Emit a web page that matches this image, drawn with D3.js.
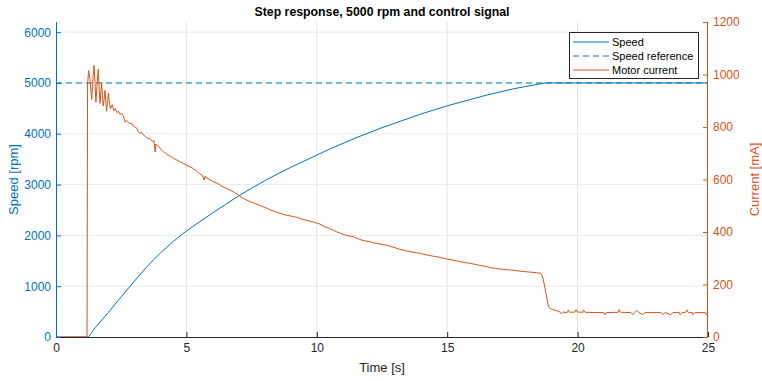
<!DOCTYPE html>
<html>
<head>
<meta charset="utf-8">
<script src="https://cdn.jsdelivr.net/npm/d3@7"></script>
<style>
  body { margin: 0; background: #fff; }
  svg text { font-family: "Liberation Sans", Arial, Helvetica, sans-serif; }
</style>
</head>
<body>
<svg id="chart" width="762" height="381"></svg>
<script>
// speed samples [s], [rpm]
const speedTime = [0, 1.2, 1.5, 2, 2.5, 3, 3.5, 4, 4.5, 5, 5.5, 6, 6.5, 7, 7.5, 8, 8.5, 9, 9.5, 10, 10.5,
  11, 11.5, 12, 12.5, 13, 13.5, 14, 14.5, 15, 15.5, 16, 16.5, 17, 17.5, 18, 18.5, 18.8, 19, 25];
const speedRpm = [0, 0, 180, 480, 790, 1095, 1390, 1650, 1880, 2085, 2265, 2440, 2610, 2775, 2930, 3075, 3210, 3340, 3460, 3580, 3700,
  3810, 3920, 4020, 4120, 4210, 4300, 4390, 4470, 4550, 4620, 4690, 4760, 4820, 4880, 4930, 4975, 5000, 5000, 5000];

// speed reference
const refRpm = 5000;

// motor current samples [s], [mA]
const currentTime = [0, 1.19, 1.21, 1.25, 1.30, 1.37, 1.42, 1.46, 1.50, 1.53, 1.58, 1.62, 1.66, 1.69, 1.72, 1.75, 1.78, 1.81, 1.85, 1.88,
  1.91, 1.94, 1.98, 2.01, 2.05, 2.09, 2.16, 2.22, 2.28, 2.33, 2.40, 2.46, 2.52, 2.58, 2.62, 2.65, 2.70, 2.76, 2.84, 2.90,
  2.96, 3.03, 3.10, 3.16, 3.22, 3.28, 3.35, 3.42, 3.50, 3.60, 3.70, 3.76, 3.80, 3.83, 3.88, 3.95, 4.02, 4.11, 4.20, 4.30,
  4.40, 4.50, 4.62, 4.75, 4.88, 5.00, 5.14, 5.26, 5.39, 5.50, 5.62, 5.68, 5.71, 5.85, 6.03, 6.20, 6.35, 6.50, 6.67, 6.85,
  7.00, 7.15, 7.31, 7.45, 7.60, 7.80, 7.95, 8.10, 8.25, 8.40, 8.59, 8.75, 8.90, 9.05, 9.23, 9.40, 9.55, 9.70, 9.87, 10.00,
  10.12, 10.30, 10.45, 10.60, 10.76, 10.90, 11.05, 11.20, 11.40, 11.55, 11.70, 11.85, 12.04, 12.20, 12.35, 12.50, 12.68, 12.85, 13.00, 13.15,
  13.32, 13.50, 13.65, 13.80, 13.96, 14.10, 14.30, 14.45, 14.60, 14.80, 15.00, 15.22, 15.40, 15.55, 15.70, 15.87, 16.05, 16.20, 16.35, 16.51,
  16.70, 16.85, 17.00, 17.15, 17.35, 17.55, 17.79, 18.00, 18.20, 18.43, 18.56, 18.62, 18.69, 18.78, 18.88, 18.94, 19.05, 19.20, 19.30, 19.38,
  19.45, 19.60, 19.65, 19.70, 19.90, 19.94, 20.00, 20.20, 20.22, 20.30, 21.00, 21.05, 21.10, 21.55, 21.59, 21.65, 22.05, 22.12, 22.20, 22.27,
  22.35, 22.50, 22.58, 23.20, 23.27, 23.35, 23.58, 23.65, 23.90, 23.93, 24.00, 24.15, 24.19, 24.25, 24.40, 24.42, 24.50, 24.90, 24.94, 25.00];
const currentMa = [0, 0, 960, 1015, 985, 905, 990, 1035, 960, 895, 970, 1020, 940, 890, 930, 970, 920, 880, 910, 940,
  895, 860, 900, 930, 890, 870, 885, 862, 870, 855, 860, 848, 852, 843, 830, 818, 825, 820, 812, 815,
  803, 800, 795, 782, 776, 780, 770, 765, 758, 757, 745, 748, 705, 735, 730, 725, 715, 706, 700, 692,
  688, 681, 675, 668, 662, 655, 649, 642, 632, 622, 615, 598, 612, 602, 592, 585, 575, 568, 560, 550,
  540, 530, 522, 515, 510, 502, 496, 490, 483, 478, 471, 466, 463, 460, 456, 450, 446, 442, 438, 434,
  430, 420, 415, 408, 401, 395, 390, 386, 382, 376, 370, 366, 363, 358, 356, 352, 350, 345, 340, 335,
  331, 327, 324, 321, 319, 315, 311, 308, 306, 301, 297, 293, 289, 286, 283, 281, 277, 274, 271, 268,
  264, 261, 259, 258, 256, 254, 251, 249, 247, 245, 243, 238, 217, 170, 118, 109, 104, 100, 97, 88,
  95, 93, 103, 94, 95, 104, 95, 94, 103, 94, 93, 84, 93, 94, 104, 94, 93, 85, 94, 101,
  93, 85, 93, 93, 85, 93, 85, 93, 93, 85, 93, 94, 103, 93, 93, 85, 93, 93, 85, 93];

const xTicks = [0, 5, 10, 15, 20, 25];
const speedTicks = [0, 1000, 2000, 3000, 4000, 5000, 6000];
const currentTicks = [0, 200, 400, 600, 800, 1000, 1200];

const blue = "#0072BD", orange = "#D95319", dark = "#262626";
const plotL = 56, plotR = 708, plotT = 22, plotB = 337;

const svg = d3.select("#chart");

const x = d3.scaleLinear().domain([0, 25]).range([plotL, plotR]);
const ySpeed = d3.scaleLinear().domain([0, 6200]).range([plotB, plotT]);
const yCur = d3.scaleLinear().domain([0, 1200]).range([plotB, plotT]);

// grid
const grid = svg.append("g");
grid.selectAll("line.v").data(xTicks.slice(1, -1)).enter().append("line")
  .attr("x1", d => x(d)).attr("x2", d => x(d))
  .attr("y1", plotT).attr("y2", plotB)
  .attr("stroke", "#e3e3e3").attr("stroke-width", 1);
grid.selectAll("line.h").data(speedTicks.slice(1)).enter().append("line")
  .attr("x1", plotL).attr("x2", plotR)
  .attr("y1", d => ySpeed(d)).attr("y2", d => ySpeed(d))
  .attr("stroke", "#e2edf6").attr("stroke-width", 1);

// data lines
const speedData = speedTime.map((t, i) => [t, speedRpm[i]]);
const curData = currentTime.map((t, i) => [t, currentMa[i]]);

svg.append("path")
  .attr("d", d3.line().x(d => x(d[0])).y(d => ySpeed(d[1])).curve(d3.curveMonotoneX)(speedData))
  .attr("fill", "none").attr("stroke", blue).attr("stroke-width", 1);

svg.append("line")
  .attr("x1", x(0)).attr("x2", x(25))
  .attr("y1", ySpeed(refRpm)).attr("y2", ySpeed(refRpm))
  .attr("stroke", blue).attr("stroke-width", 1).attr("stroke-dasharray", "6,4");

svg.append("path")
  .attr("d", d3.line().x(d => x(d[0])).y(d => yCur(d[1]))(curData))
  .attr("fill", "none").attr("stroke", orange).attr("stroke-width", 1);

// axes (ticks inward like MATLAB)
const xAxis = svg.append("g").attr("transform", `translate(0,${plotB})`)
  .call(d3.axisBottom(x).tickValues(xTicks).tickSize(-5).tickPadding(6).tickFormat(d3.format("d")));
xAxis.select(".domain").attr("d", `M${plotL},0.5H${plotR}`);
xAxis.selectAll("line").attr("stroke", dark);
xAxis.select(".domain").attr("stroke", dark);
xAxis.selectAll("text").attr("fill", dark).style("font-size", "12px");

const yAxisL = svg.append("g").attr("transform", `translate(${plotL},0)`)
  .call(d3.axisLeft(ySpeed).tickValues(speedTicks).tickSize(-5).tickPadding(5).tickFormat(d3.format("d")));
yAxisL.select(".domain").attr("d", `M0.5,${plotT}V${plotB}`).attr("stroke", blue);
yAxisL.selectAll("line").attr("stroke", blue);
yAxisL.selectAll("text").attr("fill", blue).style("font-size", "12px");

const yAxisR = svg.append("g").attr("transform", `translate(${plotR},0)`)
  .call(d3.axisRight(yCur).tickValues(currentTicks).tickSize(-5).tickPadding(5).tickFormat(d3.format("d")));
yAxisR.select(".domain").attr("d", `M-0.5,${plotT}V${plotB}`).attr("stroke", orange);
yAxisR.selectAll("line").attr("stroke", orange);
yAxisR.selectAll("text").attr("fill", orange).style("font-size", "12px");

// labels
svg.append("text").attr("x", (plotL + plotR) / 2).attr("y", 16)
  .attr("text-anchor", "middle").style("font-size", "12.3px").style("font-weight", "bold")
  .attr("fill", "#000").text("Step response, 5000 rpm and control signal");

svg.append("text").attr("x", (plotL + plotR) / 2).attr("y", 372)
  .attr("text-anchor", "middle").style("font-size", "13px").attr("fill", dark).text("Time [s]");

svg.append("text").attr("transform", `translate(18,${(plotT + plotB) / 2}) rotate(-90)`)
  .attr("text-anchor", "middle").style("font-size", "13px").attr("fill", blue).text("Speed [rpm]");

svg.append("text").attr("transform", `translate(759,${(plotT + plotB) / 2}) rotate(-90)`)
  .attr("text-anchor", "middle").style("font-size", "13px").attr("fill", orange).text("Current [mA]");

// legend
const legendItems = [
  { name: "Speed", color: blue, dash: null },
  { name: "Speed reference", color: blue, dash: "6,4" },
  { name: "Motor current", color: orange, dash: null }
];
const lg = svg.append("g").attr("transform", "translate(569,32)");
lg.append("rect").attr("x", 0.5).attr("y", 0.5).attr("width", 129).attr("height", 46)
  .attr("fill", "#fff").attr("stroke", dark).attr("stroke-width", 1);
legendItems.forEach((it, i) => {
  const yy = 10 + i * 14;
  lg.append("line").attr("x1", 4).attr("x2", 40).attr("y1", yy).attr("y2", yy)
    .attr("stroke", it.color).attr("stroke-width", 1).attr("stroke-dasharray", it.dash);
  lg.append("text").attr("x", 43).attr("y", yy + 4).style("font-size", "11px")
    .attr("fill", "#000").text(it.name);
});
</script>
</body>
</html>
